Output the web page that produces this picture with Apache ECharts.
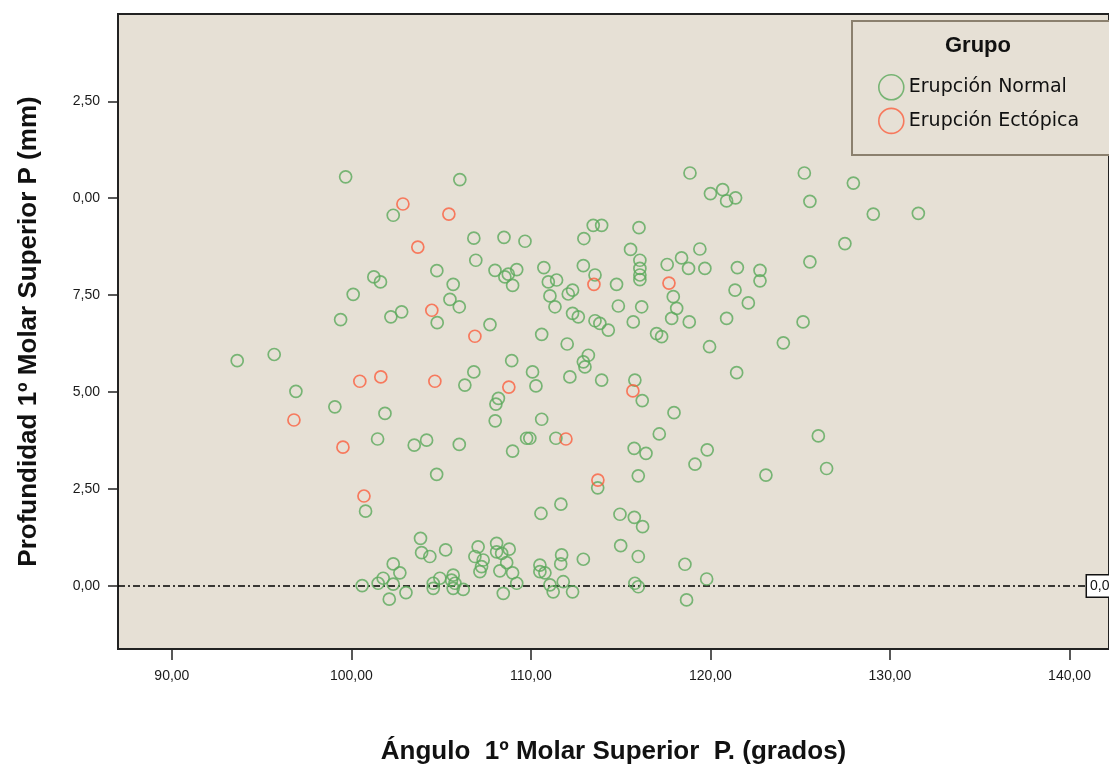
<!DOCTYPE html>
<html>
<head>
<meta charset="utf-8">
<title>Profundidad vs Ángulo 1º Molar Superior</title>
<script src="https://cdn.jsdelivr.net/npm/echarts@6/dist/echarts.min.js"></script>
<style>
  html, body { margin: 0; padding: 0; background: #ffffff; }
  #chart { width: 1109px; height: 767px; }
</style>
</head>
<body>
<div id="chart"></div>
<script>
// Grupo: Erupción Normal  [ángulo (grados), profundidad (mm)]
const normal = [
  [99.68, 10.55], [106.04, 10.48], [102.33, 9.56], [106.82, 8.97], [106.93, 8.40],
  [104.76, 8.13], [101.25, 7.97], [101.62, 7.84], [105.67, 7.78], [100.10, 7.52],
  [105.49, 7.39], [106.01, 7.20], [102.80, 7.07], [102.20, 6.94], [99.40, 6.87],
  [104.78, 6.79], [95.70, 5.97], [93.64, 5.81], [96.91, 5.02], [106.32, 5.18],
  [106.82, 5.52], [118.86, 10.65], [113.47, 9.30], [113.94, 9.30], [116.02, 9.24],
  [108.50, 8.99], [109.67, 8.89], [112.95, 8.96], [115.55, 8.68], [116.07, 8.40],
  [117.59, 8.29], [118.39, 8.46], [118.78, 8.19], [119.69, 8.19], [119.41, 8.69],
  [108.00, 8.14], [108.74, 8.04], [109.21, 8.16], [108.55, 7.97], [108.98, 7.75],
  [110.72, 8.21], [110.97, 7.84], [111.43, 7.89], [111.06, 7.48], [111.34, 7.20],
  [112.92, 8.26], [113.57, 8.02], [116.07, 8.19], [116.07, 8.02], [116.07, 7.90],
  [114.77, 7.78], [112.32, 7.63], [112.08, 7.53], [117.93, 7.46], [118.12, 7.16],
  [117.84, 6.90], [118.82, 6.81], [114.87, 7.22], [116.17, 7.20], [115.70, 6.81],
  [112.32, 7.03], [112.64, 6.94], [113.57, 6.84], [113.84, 6.77], [114.31, 6.60],
  [117.00, 6.51], [117.28, 6.43], [119.95, 6.17], [107.72, 6.74], [110.60, 6.49],
  [112.02, 6.24], [108.93, 5.81], [110.09, 5.52], [112.92, 5.78], [113.20, 5.95],
  [113.01, 5.65], [112.17, 5.39], [113.94, 5.31], [115.79, 5.31], [110.28, 5.16],
  [125.23, 10.65], [127.96, 10.39], [120.00, 10.12], [120.68, 10.22], [120.90, 9.93],
  [121.40, 10.01], [125.54, 9.92], [129.07, 9.59], [131.58, 9.61], [127.49, 8.83],
  [125.54, 8.36], [121.50, 8.21], [122.76, 8.14], [122.76, 7.87], [121.37, 7.63],
  [122.11, 7.30], [120.90, 6.90], [125.16, 6.81], [124.06, 6.27], [121.46, 5.50],
  [99.08, 4.62], [101.87, 4.45], [101.46, 3.79], [103.50, 3.63], [104.19, 3.76],
  [106.01, 3.65], [104.75, 2.88], [100.79, 1.93], [108.19, 4.84], [108.05, 4.69],
  [108.01, 4.26], [110.60, 4.30], [109.76, 3.81], [109.94, 3.81], [111.39, 3.81],
  [108.98, 3.48], [111.67, 2.11], [110.56, 1.87], [103.85, 1.23], [103.91, 0.86],
  [104.37, 0.76], [105.25, 0.93], [102.33, 0.57], [102.70, 0.34], [101.77, 0.20],
  [101.49, 0.07], [100.60, 0.01], [102.33, 0.05], [102.11, -0.34], [103.04, -0.17],
  [104.56, 0.07], [104.56, -0.06], [104.93, 0.20], [105.58, 0.15], [105.67, 0.28],
  [105.77, 0.07], [105.67, -0.06], [106.23, -0.09], [107.06, 1.01], [106.88, 0.76],
  [107.34, 0.67], [107.25, 0.50], [107.16, 0.37], [108.09, 1.10], [108.09, 0.88],
  [108.37, 0.84], [108.79, 0.95], [108.65, 0.60], [108.27, 0.39], [108.98, 0.34],
  [109.21, 0.07], [108.46, -0.19], [110.50, 0.54], [110.50, 0.37], [110.78, 0.34],
  [111.71, 0.80], [111.66, 0.57], [111.06, 0.03], [111.24, -0.15], [111.80, 0.11],
  [112.32, -0.15], [116.20, 4.78], [117.97, 4.47], [117.15, 3.92], [115.75, 3.55],
  [116.41, 3.42], [119.14, 3.14], [119.82, 3.51], [126.01, 3.87], [126.47, 3.03],
  [123.09, 2.86], [115.98, 2.84], [113.72, 2.53], [114.96, 1.85], [115.76, 1.77],
  [116.22, 1.53], [115.00, 1.04], [115.98, 0.76], [112.92, 0.69], [118.58, 0.56],
  [119.79, 0.18], [115.79, 0.07], [115.98, -0.02], [118.67, -0.36]
];

// Grupo: Erupción Ectópica
const ectopica = [
  [102.87, 9.85], [105.43, 9.59], [103.70, 8.74], [104.48, 7.11], [106.88, 6.44],
  [100.47, 5.28], [101.64, 5.39], [104.65, 5.28], [108.77, 5.13], [96.80, 4.28],
  [99.53, 3.58], [100.70, 2.32], [111.95, 3.79], [113.51, 7.78], [117.69, 7.81],
  [115.68, 5.03], [113.73, 2.73]
];

const groupNames = ['Erupción Normal', 'Erupción Ectópica'];

// tick positions and their printed labels
const xTickValues = [90, 100, 110, 120, 130, 140];
const xTickLabels = ['90,00', '100,00', '110,00', '120,00', '130,00', '140,00'];
const yTickValues = [0, 2.5, 5, 7.5, 10, 12.5];
const yTickLabels = ['0,00', '2,50', '5,00', '7,50', '0,00', '2,50'];

const refLineValue = 0;
const refLineLabel = '0,00';

const GREEN = '#5ba95b';
const RED = '#fb5f3f';
const PLOT_BG = '#e6e0d5';

const chart = echarts.init(document.getElementById('chart'), null, { renderer: 'canvas' });

const tickFont = { fontFamily: 'Liberation Sans, Arial, sans-serif', fontSize: 14, color: '#1a1a1a' };
const titleFont = { fontFamily: 'Liberation Sans, Arial, sans-serif', fontSize: 26, fontWeight: 'bold', color: '#111' };

function hollow(color) {
  return { color: 'transparent', borderColor: color, borderWidth: 1.7 };
}

chart.setOption({
  backgroundColor: '#ffffff',
  animation: false,
  grid: {
    left: 118, top: 14, right: 0, height: 635,
    outerBoundsMode: 'none',
    show: true, backgroundColor: PLOT_BG, borderColor: '#222', borderWidth: 2
  },
  graphic: [
    {
      type: 'rect', left: 851, top: 20, z: 50,
      shape: { width: 280, height: 134 },
      style: { fill: PLOT_BG, stroke: '#8b806e', lineWidth: 2 }
    },
    {
      type: 'text', left: 945, top: 35, z: 51,
      style: { text: 'Grupo', font: 'bold 22px "Liberation Sans", Arial, sans-serif', fill: '#111' }
    }
  ],
  legend: {
    z: 60,
    orient: 'vertical', left: 878, top: 74, padding: 0,
    itemWidth: 25, itemHeight: 25, itemGap: 7,
    icon: 'circle',
    textStyle: { fontFamily: 'DejaVu Sans, sans-serif', fontSize: 19, color: '#111' },
    data: [
      { name: groupNames[0], itemStyle: { color: 'transparent', borderColor: GREEN, borderWidth: 1.6 } },
      { name: groupNames[1], itemStyle: { color: 'transparent', borderColor: RED, borderWidth: 1.6 } }
    ]
  },
  xAxis: {
    type: 'value', min: 87, max: 142.2,
    name: 'Ángulo  1º Molar Superior  P. (grados)',
    nameLocation: 'middle', nameGap: 90, nameTextStyle: titleFont,
    axisLine: { show: true, onZero: false, lineStyle: { color: '#222', width: 2 } },
    axisTick: { show: true, length: 11, customValues: xTickValues, lineStyle: { color: '#222', width: 1.5 } },
    axisLabel: {
      ...tickFont, margin: 20, customValues: xTickValues,
      formatter: v => xTickLabels[xTickValues.indexOf(v)] ?? ''
    },
    splitLine: { show: false }
  },
  yAxis: {
    type: 'value', min: -1.625, max: 14.75,
    name: 'Profundidad 1º Molar Superior P (mm)',
    nameLocation: 'middle', nameRotate: 90, nameGap: 76, nameTextStyle: titleFont,
    axisLine: { show: true, onZero: false, lineStyle: { color: '#222', width: 2 } },
    axisTick: { show: true, length: 10, customValues: yTickValues, lineStyle: { color: '#222', width: 1.5 } },
    axisLabel: {
      ...tickFont, margin: 18, customValues: yTickValues,
      formatter: v => yTickLabels[yTickValues.indexOf(v)] ?? ''
    },
    splitLine: { show: false }
  },
  series: [
    {
      name: groupNames[0], type: 'scatter', data: normal,
      symbol: 'circle', symbolSize: 12, itemStyle: hollow(GREEN), z: 3,
      markLine: {
        silent: true, symbol: 'none', z: 2,
        lineStyle: { color: '#000', width: 1.6, type: [7, 3, 2, 3] },
        label: {
          show: true, position: 'end', distance: 1,
          formatter: refLineLabel,
          fontFamily: 'Liberation Sans, Arial, sans-serif', fontSize: 14, color: '#111',
          backgroundColor: '#ffffff', borderColor: '#111', borderWidth: 1.5,
          padding: [4, 4, 3, 3]
        },
        data: [[{ coord: [87, refLineValue] }, { coord: [140.92, refLineValue] }]]
      }
    },
    {
      name: groupNames[1], type: 'scatter', data: ectopica,
      symbol: 'circle', symbolSize: 12, itemStyle: hollow(RED), z: 4
    }
  ]
});
</script>
</body>
</html>
